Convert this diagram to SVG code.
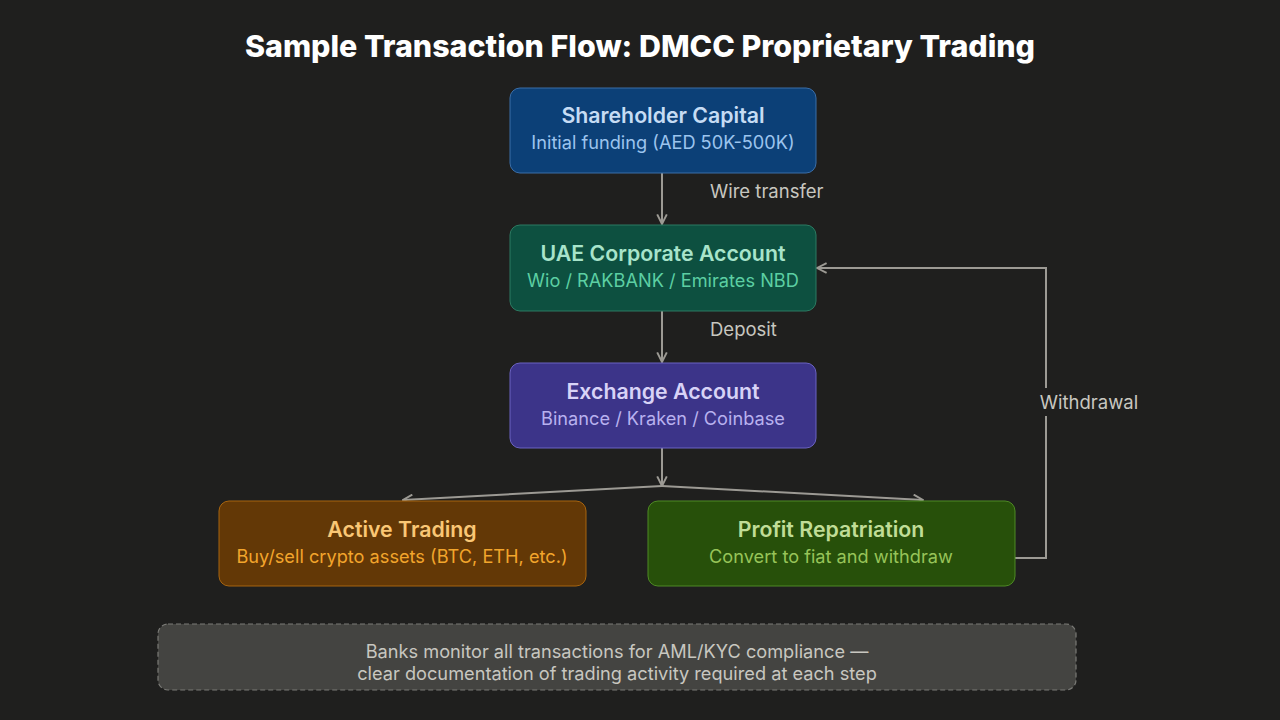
<svg xmlns="http://www.w3.org/2000/svg" width="1280" height="720" viewBox="0 0 1280 720">
<defs>
<marker id="arr" viewBox="0 0 10 10" refX="9" refY="5" markerWidth="12" markerHeight="12" markerUnits="userSpaceOnUse" orient="auto">
<path d="M1 1 L9 5 L1 9" fill="none" stroke="#9c9a94" stroke-width="1.6"/>
</marker>
</defs>
<style>
.t{font-family:Inter,"Noto Sans",sans-serif;font-weight:600;font-size:21.3px;text-anchor:middle}
.s{font-family:Inter,"Noto Sans",sans-serif;font-weight:400;font-size:18.2px;text-anchor:middle}
.lbl{font-family:Inter,"Noto Sans",sans-serif;font-size:18.5px;fill:#c8c7c0}
.c{fill:none;stroke:#9c9a94;stroke-width:2}
</style>
<rect width="1280" height="720" fill="#1f1f1e"/>
<text x="640" y="57" text-anchor="middle" font-family="Inter,sans-serif" font-weight="800" font-size="30.4" fill="#ffffff">Sample Transaction Flow: DMCC Proprietary Trading</text>

<g id="connectors">
<line class="c" x1="662" y1="173" x2="662" y2="224" marker-end="url(#arr)"/>
<line class="c" x1="662" y1="311" x2="662" y2="362" marker-end="url(#arr)"/>
<line class="c" x1="662" y1="448" x2="662" y2="486" marker-end="url(#arr)"/>
<line class="c" x1="662" y1="486" x2="403" y2="500" marker-end="url(#arr)"/>
<line class="c" x1="662" y1="486" x2="923" y2="500" marker-end="url(#arr)"/>
<path class="c" d="M1015 558 H1046 V268 H817" marker-end="url(#arr)"/>
<rect x="1032" y="388" width="112" height="28" fill="#1f1f1e"/>
<text class="lbl" x="710" y="198">Wire transfer</text>
<text class="lbl" x="710" y="336">Deposit</text>
<text class="lbl" x="1089" y="409" text-anchor="middle">Withdrawal</text>
</g>

<g id="shareholder">
<rect x="510" y="88" width="306" height="85" rx="10" fill="#0c4077" stroke="#3b6ea8" stroke-width="1"/>
<text class="t" x="663" y="123" fill="#c6dcf4">Shareholder Capital</text>
<text class="s" x="663" y="149" fill="#9cc4ee">Initial funding (AED 50K-500K)</text>
</g>

<g id="uae">
<rect x="510" y="225" width="306" height="86" rx="10" fill="#0d5040" stroke="#2c7b62" stroke-width="1"/>
<text class="t" x="663" y="261" fill="#a8e4cb">UAE Corporate Account</text>
<text class="s" x="663" y="287" fill="#5ccfa3">Wio / RAKBANK / Emirates NBD</text>
</g>

<g id="exchange">
<rect x="510" y="363" width="306" height="85" rx="10" fill="#3c3489" stroke="#6b63c2" stroke-width="1"/>
<text class="t" x="663" y="399" fill="#d8d3f7">Exchange Account</text>
<text class="s" x="663" y="425" fill="#b8b1ef">Binance / Kraken / Coinbase</text>
</g>

<g id="active">
<rect x="219" y="501" width="367" height="85" rx="10" fill="#633806" stroke="#a8650f" stroke-width="1"/>
<text class="t" x="402" y="537" fill="#fac775">Active Trading</text>
<text class="s" x="402" y="563" fill="#f2a52c">Buy/sell crypto assets (BTC, ETH, etc.)</text>
</g>

<g id="profit">
<rect x="648" y="501" width="367" height="85" rx="10" fill="#27500a" stroke="#4e8a24" stroke-width="1"/>
<text class="t" x="831" y="537" fill="#c0dd97">Profit Repatriation</text>
<text class="s" x="831" y="563" fill="#97c459">Convert to fiat and withdraw</text>
</g>

<g id="note">
<rect x="158" y="624" width="918" height="66" rx="10" fill="#444441" stroke="#7a7a76" stroke-width="1.2" stroke-dasharray="5 3"/>
<text class="s" x="617" y="658" fill="#c8c7c0">Banks monitor all transactions for AML/KYC compliance —</text>
<text class="s" x="617" y="680" fill="#c8c7c0">clear documentation of trading activity required at each step</text>
</g>
</svg>
